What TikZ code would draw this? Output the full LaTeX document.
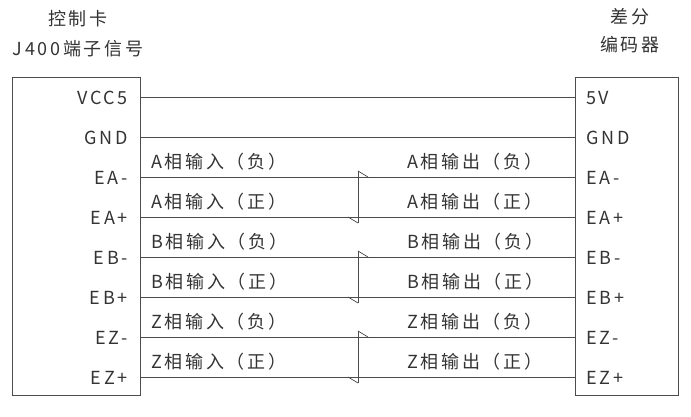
\documentclass[tikz,border=0pt]{standalone}
\usepackage{fontspec}
\setmainfont[LetterSpace=15]{Noto Sans CJK SC}
\begin{document}
\begin{tikzpicture}[x=1pt,y=-1pt,
  txt/.style={font=\fontsize{18}{20}\selectfont, text=black!80, inner sep=0pt},
  wire/.style={draw=black!70, line width=0.7pt}]
\useasboundingbox (0,0) rectangle (691,417);
\draw[wire] (12,77) rectangle (140,395);
\draw[wire] (575,77) rectangle (678,395);
\node[txt] (t1) at (78,19) {控制卡};
\node[txt] (t2) at (78,49) {J400端子信号};
\node[txt] (t3) at (630,17) {差分};
\node[txt] (t4) at (630,45) {编码器};
\foreach \y/\l/\r [count=\i] in {97/VCC5/5V,137/GND/GND,177/EA-/EA-,217/EA+/EA+,257/EB-/EB-,297/EB+/EB+,337/EZ-/EZ-,377/EZ+/EZ+}{
  \node[txt,anchor=east] (L\i) at (128,\y+1) {\l};
  \node[txt,anchor=west] (R\i) at (586,\y+1) {\r};
  \coordinate (a\i) at (140,\y);
  \coordinate (b\i) at (575,\y);
  \draw[wire] (a\i) -- (b\i);
}
\foreach \p/\n/\s [count=\k] in {A/1/负,A/1/正,B/2/负,B/2/正,Z/3/负,Z/3/正}{
  \pgfmathsetmacro{\yy}{177+40*(\k-1)-15}
  \node[txt,anchor=west] (in\k) at (151,\yy) {\p 相输入（\s）};
  \node[txt,anchor=west] (out\k) at (407,\yy) {\p 相输出（\s）};
}
\foreach \j in {0,1,2}{
  \pgfmathsetmacro{\ya}{171+80*\j}
  \draw[wire] (358,\ya) -- (358,\ya+52);
  \draw[wire] (358,\ya) -- (368,\ya+6);
  \draw[wire] (348,\ya+46) -- (358,\ya+52);
}
\end{tikzpicture}
\end{document}
